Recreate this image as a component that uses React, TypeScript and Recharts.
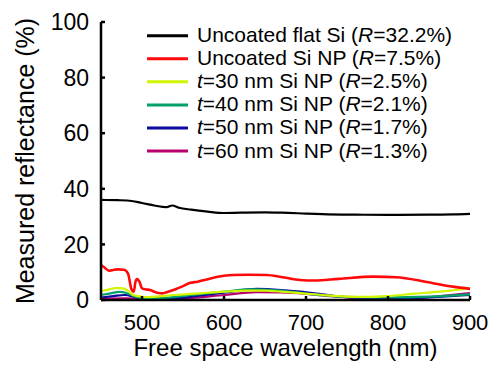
import { LineChart, Line, XAxis, YAxis, Legend } from 'recharts'

// wavelength (nm) / measured reflectance (%)
const flatSiWl = [450, 470, 482, 500, 515, 530, 537, 545, 560, 580, 600, 620, 650, 670, 700, 720, 760, 800, 850, 880, 900]
const flatSiR = [36.0, 35.9, 35.8, 34.9, 34.0, 33.4, 34.0, 33.2, 32.5, 31.8, 31.3, 31.4, 31.5, 31.4, 31.1, 30.9, 30.7, 30.6, 30.7, 30.8, 31.0]

const npWl = [450, 455, 460, 465, 470, 478, 483, 487, 490, 492, 494, 497, 500, 505, 510, 515, 520, 525, 530, 540, 550, 558, 568, 580, 600, 611, 630, 652, 670, 693, 710, 740, 782, 810, 847, 879, 900]
const npR = [12.6, 11.5, 10.5, 10.8, 11.0, 10.9, 9.5, 4.0, 3.0, 6.5, 7.5, 6.5, 4.2, 3.8, 3.6, 3.0, 2.5, 2.4, 2.8, 3.8, 5.0, 6.1, 6.6, 7.5, 8.7, 9.0, 9.1, 9.0, 8.3, 7.2, 7.0, 7.6, 8.4, 8.2, 6.5, 4.8, 4.0]

const t30Wl = [450, 460, 467, 475, 482, 488, 495, 505, 520, 540, 560, 580, 600, 628, 650, 670, 693, 720, 750, 774, 800, 830, 863, 900]
const t30R = [3.3, 3.8, 4.3, 4.3, 3.5, 2.0, 1.4, 1.0, 1.3, 1.8, 2.2, 2.6, 3.0, 3.4, 3.4, 3.0, 2.5, 1.8, 1.2, 1.1, 1.4, 2.2, 3.0, 4.3]

const t40Wl = [450, 460, 473, 480, 490, 500, 510, 530, 560, 600, 632, 660, 693, 720, 750, 800, 850, 900]
const t40R = [1.8, 2.3, 2.9, 2.6, 1.4, 0.7, 0.5, 0.8, 1.8, 3.0, 3.8, 3.6, 2.6, 1.7, 1.1, 0.9, 1.2, 2.0]

const t50Wl = [450, 465, 479, 490, 500, 515, 540, 570, 600, 640, 670, 693, 720, 742, 780, 800, 850, 900]
const t50R = [0.9, 1.4, 1.8, 1.2, 0.5, 0.3, 0.6, 1.6, 2.6, 4.0, 3.6, 3.0, 2.0, 1.2, 0.6, 0.5, 0.9, 1.8]

const t60Wl = [450, 480, 500, 530, 560, 600, 640, 670, 700, 730, 760, 800, 840, 870, 900]
const t60R = [0.5, 0.6, 0.4, 0.3, 0.7, 1.8, 2.8, 2.7, 2.2, 1.4, 0.8, 0.5, 0.8, 1.6, 2.5]

const xTicks = [500, 600, 700, 800, 900]
const yTicks = [0, 20, 40, 60, 80, 100]

const toPoints = (wl: number[], r: number[]) => wl.map((w, i) => ({ wl: w, r: r[i] }))

const series = [
  { key: 'flat', color: '#000000', name: 'Uncoated flat Si', t: '', R: '32.2', data: toPoints(flatSiWl, flatSiR) },
  { key: 'np', color: '#ff0a0a', name: 'Uncoated Si NP', t: '', R: '7.5', data: toPoints(npWl, npR) },
  { key: 't30', color: '#d2f500', name: '', t: '30', R: '2.5', data: toPoints(t30Wl, t30R) },
  { key: 't40', color: '#00a06a', name: '', t: '40', R: '2.1', data: toPoints(t40Wl, t40R) },
  { key: 't50', color: '#0a0a9e', name: '', t: '50', R: '1.7', data: toPoints(t50Wl, t50R) },
  { key: 't60', color: '#b8006e', name: '', t: '60', R: '1.3', data: toPoints(t60Wl, t60R) },
]

const LegendBox = () => (
  <svg width={340} height={150} style={{ display: 'block' }}>
    {series.map((s, i) => {
      const y = 15.7 + i * 23.06
      return (
        <g key={s.key}>
          <line x1={7} x2={48} y1={y} y2={y} stroke={s.color} strokeWidth={3} />
          <text x={57} y={y + 6.5} fontSize={21} fill="#000">
            {s.t ? (
              <>
                <tspan fontStyle="italic">t</tspan>
                <tspan>{`=${s.t} nm Si NP (`}</tspan>
              </>
            ) : (
              <tspan>{`${s.name} (`}</tspan>
            )}
            <tspan fontStyle="italic">R</tspan>
            <tspan>{`=${s.R}%)`}</tspan>
          </text>
        </g>
      )
    })}
  </svg>
)

const App = () => {
  return (
    <div style={{ width: 493, height: 367, fontFamily: '"Liberation Sans", Arial, sans-serif', background: '#fff' }}>
      <style>{'body{margin:0}'}</style>
      <LineChart width={493} height={367} margin={{ top: 22, right: 23, bottom: 0, left: 0 }}>
        <XAxis
          dataKey="wl"
          type="number"
          domain={[450, 900]}
          ticks={xTicks}
          allowDuplicatedCategory={false}
          height={67}
          tick={{ fontSize: 22, fill: '#000' }}
          tickSize={-4}
          tickMargin={18}
          axisLine={{ stroke: '#000', strokeWidth: 2.5 }}
          tickLine={{ stroke: '#000', strokeWidth: 2.5 }}
          label={{ value: 'Free space wavelength (nm)', position: 'insideBottom', offset: 11, fontSize: 24, fill: '#000' }}
        />
        <YAxis
          type="number"
          domain={[0, 100]}
          ticks={yTicks}
          width={101}
          tick={{ fontSize: 23, fill: '#000' }}
          tickSize={-4}
          tickMargin={16}
          axisLine={{ stroke: '#000', strokeWidth: 2.5 }}
          tickLine={{ stroke: '#000', strokeWidth: 2.5 }}
          label={{
            value: 'Measured reflectance (%)',
            angle: -90,
            position: 'insideLeft',
            offset: 25,
            textAnchor: 'middle',
            fontSize: 25,
            fill: '#000',
          }}
        />
        <Legend
          content={<LegendBox />}
          layout="vertical"
          align="center"
          verticalAlign="middle"
          wrapperStyle={{ top: 20, left: 140, width: 340 }}
        />
        {series
          .slice()
          .reverse()
          .map((s) => (
            <Line
              key={s.key}
              data={s.data}
              dataKey="r"
              type="monotone"
              stroke={s.color}
              strokeWidth={s.key === 'np' ? 2.6 : 2.2}
              dot={false}
              activeDot={false}
              isAnimationActive={false}
            />
          ))}
      </LineChart>
    </div>
  )
}

export default App
